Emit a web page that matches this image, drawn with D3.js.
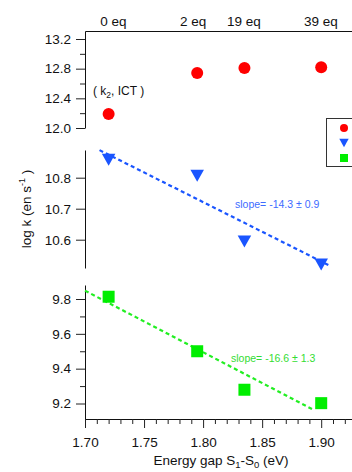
<!DOCTYPE html>
<html>
<head>
<meta charset="utf-8">
<script src="https://cdn.jsdelivr.net/npm/d3@7"></script>
<style>
    html, body { margin: 0; padding: 0; background: #fff; }
    #chart { width: 352px; height: 472px; }
    text { font-family: "Liberation Sans", Arial, sans-serif; fill: #111; }
</style>
</head>
<body>
<div id="chart"></div>
<script>
// values
let energyGap = [1.72, 1.795, 1.835, 1.90];
let eqLabels = ['0 eq', '2 eq', '19 eq', '39 eq'];
let eqLabelPos = [1.724, 1.7915, 1.8345, 1.8997];
let kICT = [12.19, 12.74, 12.81, 12.82];
let kBlue = [10.858, 10.806, 10.594, 10.52];
let kGreen = [9.813, 9.50, 9.279, 9.202];

let fitBlueX = [1.7123, 1.9079];
let fitBlueY = [10.889, 10.515];
let fitGreenX = [1.70, 1.8937];
let fitGreenY = [9.848, 9.163];

let slopeBlue = 'slope= -14.3 \u00b1 0.9';
let slopeGreen = 'slope= -16.6 \u00b1 1.3';

let xTicks = [1.70, 1.75, 1.80, 1.85, 1.90];
let xMinor = [1.71, 1.72, 1.73, 1.74, 1.76, 1.77, 1.78, 1.79, 1.81, 1.82, 1.83, 1.84, 1.86, 1.87, 1.88, 1.89, 1.91, 1.92];
let topTicks = [12.0, 12.4, 12.8, 13.2];
let topMinor = [12.2, 12.6, 13.0];
let midTicks = [10.6, 10.7, 10.8];
let botTicks = [9.2, 9.4, 9.6, 9.8];
let botMinor = [9.3, 9.5, 9.7];

let width = 352, height = 472;
let axisX = 85;

let svg = d3.select('#chart').append('svg')
    .attr('width', width)
    .attr('height', height);

let x = d3.scaleLinear().domain([1.70, 1.90]).range([axisX, 321.2]);
let xFull = x.copy().domain([1.70, x.invert(width)]).range([axisX, width]);

// three stacked panels, tick value -> pixel
let yTop = d3.scaleLinear().domain([12.0, 13.2]).range([128, 39]);
yTop.domain([12.0, yTop.invert(31)]).range([128, 31]);
let yMid = d3.scaleLinear().domain([10.6, 10.8]).range([239.7, 177.7]);
yMid.domain([yMid.invert(268), yMid.invert(150)]).range([268, 150]);
let yBot = d3.scaleLinear().domain([9.2, 9.8]).range([403.5, 299]);
yBot.domain([yBot.invert(419), yBot.invert(285)]).range([419, 285]);

let fmt1 = d3.format('.1f');
let fmt2 = d3.format('.2f');

function drawYAxis(scale, major, minor) {
    let g = svg.append('g')
        .attr('transform', 'translate(' + axisX + ',0)')
        .call(d3.axisLeft(scale).tickValues(major).tickFormat(fmt1).tickSize(9).tickSizeOuter(0).tickPadding(5));
    g.select('.domain').attr('stroke', '#111');
    g.selectAll('.tick line').attr('stroke', '#222');
    g.selectAll('.tick text').style('font-size', '13.5px').attr('fill', '#111');
    if (minor) {
        let m = svg.append('g')
            .attr('transform', 'translate(' + axisX + ',0)')
            .call(d3.axisLeft(scale).tickValues(minor).tickFormat('').tickSize(5).tickSizeOuter(0));
        m.select('.domain').remove();
        m.selectAll('.tick line').attr('stroke', '#222');
    }
}

drawYAxis(yTop, topTicks, topMinor);
drawYAxis(yMid, midTicks, null);
drawYAxis(yBot, botTicks, botMinor);

// bottom x axis
let gx = svg.append('g')
    .attr('transform', 'translate(0,419)')
    .call(d3.axisBottom(xFull).tickValues(xTicks).tickFormat(fmt2).tickSize(9).tickSizeOuter(0).tickPadding(9));
gx.select('.domain').attr('stroke', '#111');
gx.selectAll('.tick line').attr('stroke', '#222');
gx.selectAll('.tick text').style('font-size', '13.5px').attr('fill', '#111');

let gxm = svg.append('g')
    .attr('transform', 'translate(0,419)')
    .call(d3.axisBottom(xFull).tickValues(xMinor).tickFormat('').tickSize(5).tickSizeOuter(0));
gxm.select('.domain').remove();
gxm.selectAll('.tick line').attr('stroke', '#222');

// top axis line with equivalent labels
svg.append('line')
    .attr('x1', axisX + 0.5).attr('x2', width)
    .attr('y1', 31.5).attr('y2', 31.5)
    .attr('stroke', '#111');

svg.selectAll('.eq-label')
    .data(eqLabels)
    .enter().append('text')
    .attr('class', 'eq-label')
    .attr('x', function(d, i) { return xFull(eqLabelPos[i]); })
    .attr('y', 26)
    .attr('text-anchor', 'middle')
    .style('font-size', '13.5px')
    .text(function(d) { return d; });

// fit lines
function drawFit(xs, ys, scale, color) {
    svg.append('line')
        .attr('x1', x(xs[0])).attr('y1', scale(ys[0]))
        .attr('x2', x(xs[1])).attr('y2', scale(ys[1]))
        .attr('stroke', color)
        .attr('stroke-width', 2.2)
        .attr('stroke-dasharray', '4,3');
}

drawFit(fitBlueX, fitBlueY, yMid, '#1a55ff');
drawFit(fitGreenX, fitGreenY, yBot, '#22ee22');

// markers
svg.selectAll('.ict')
    .data(kICT)
    .enter().append('circle')
    .attr('class', 'ict')
    .attr('cx', function(d, i) { return x(energyGap[i]); })
    .attr('cy', function(d) { return yTop(d); })
    .attr('r', 6)
    .style('fill', '#ff0000');

function triangle(s) {
    let w = s * 0.52, h = s * 0.46;
    return 'M' + (-w) + ',' + (-h) + 'L' + w + ',' + (-h) + 'L0,' + h + 'Z';
}

svg.selectAll('.tri')
    .data(kBlue)
    .enter().append('path')
    .attr('class', 'tri')
    .attr('d', triangle(13))
    .attr('transform', function(d, i) {
        return 'translate(' + x(energyGap[i]) + ',' + yMid(d) + ')';
    })
    .style('fill', '#1a55ff');

svg.selectAll('.sq')
    .data(kGreen)
    .enter().append('rect')
    .attr('class', 'sq')
    .attr('x', function(d, i) { return x(energyGap[i]) - 6; })
    .attr('y', function(d) { return yBot(d) - 6; })
    .attr('width', 12)
    .attr('height', 12)
    .style('fill', '#00ee00');

// slope annotations
svg.append('text')
    .attr('x', 235).attr('y', 208)
    .style('font-size', '10.5px')
    .style('fill', '#3d6bff')
    .text(slopeBlue);

svg.append('text')
    .attr('x', 231).attr('y', 362)
    .style('font-size', '10.5px')
    .style('fill', '#33dd33')
    .text(slopeGreen);

// ( k2, ICT ) label
let ann = svg.append('text')
    .attr('x', 93).attr('y', 95)
    .style('font-size', '12px');
ann.append('tspan').text('( k');
ann.append('tspan').attr('dy', 3).style('font-size', '8.5px').text('2');
ann.append('tspan').attr('dy', -3).text(', ICT )');

// legend, cut off at the right edge
svg.append('rect')
    .attr('x', 326.5).attr('y', 118.5)
    .attr('width', 40).attr('height', 48)
    .attr('fill', '#fff')
    .attr('stroke', '#333');
svg.append('circle')
    .attr('cx', 344).attr('cy', 128).attr('r', 4)
    .style('fill', '#ff0000');
svg.append('path')
    .attr('d', triangle(9))
    .attr('transform', 'translate(344,143)')
    .style('fill', '#1a55ff');
svg.append('rect')
    .attr('x', 340).attr('y', 154).attr('width', 8).attr('height', 8)
    .style('fill', '#00ee00');

// axis titles
let xt = svg.append('text')
    .attr('x', 221).attr('y', 465)
    .attr('text-anchor', 'middle')
    .style('font-size', '13.5px');
xt.append('tspan').text('Energy gap S');
xt.append('tspan').attr('dy', 3).style('font-size', '9.5px').text('1');
xt.append('tspan').attr('dy', -3).text('-S');
xt.append('tspan').attr('dy', 3).style('font-size', '9.5px').text('0');
xt.append('tspan').attr('dy', -3).text(' (eV)');

let yt = svg.append('text')
    .attr('transform', 'translate(31,209) rotate(-90)')
    .attr('text-anchor', 'middle')
    .style('font-size', '13.5px');
yt.append('tspan').text('log k (en s');
yt.append('tspan').attr('dy', -6).style('font-size', '9px').text('-1');
yt.append('tspan').attr('dy', 6).text(' )');
</script>
</body>
</html>
